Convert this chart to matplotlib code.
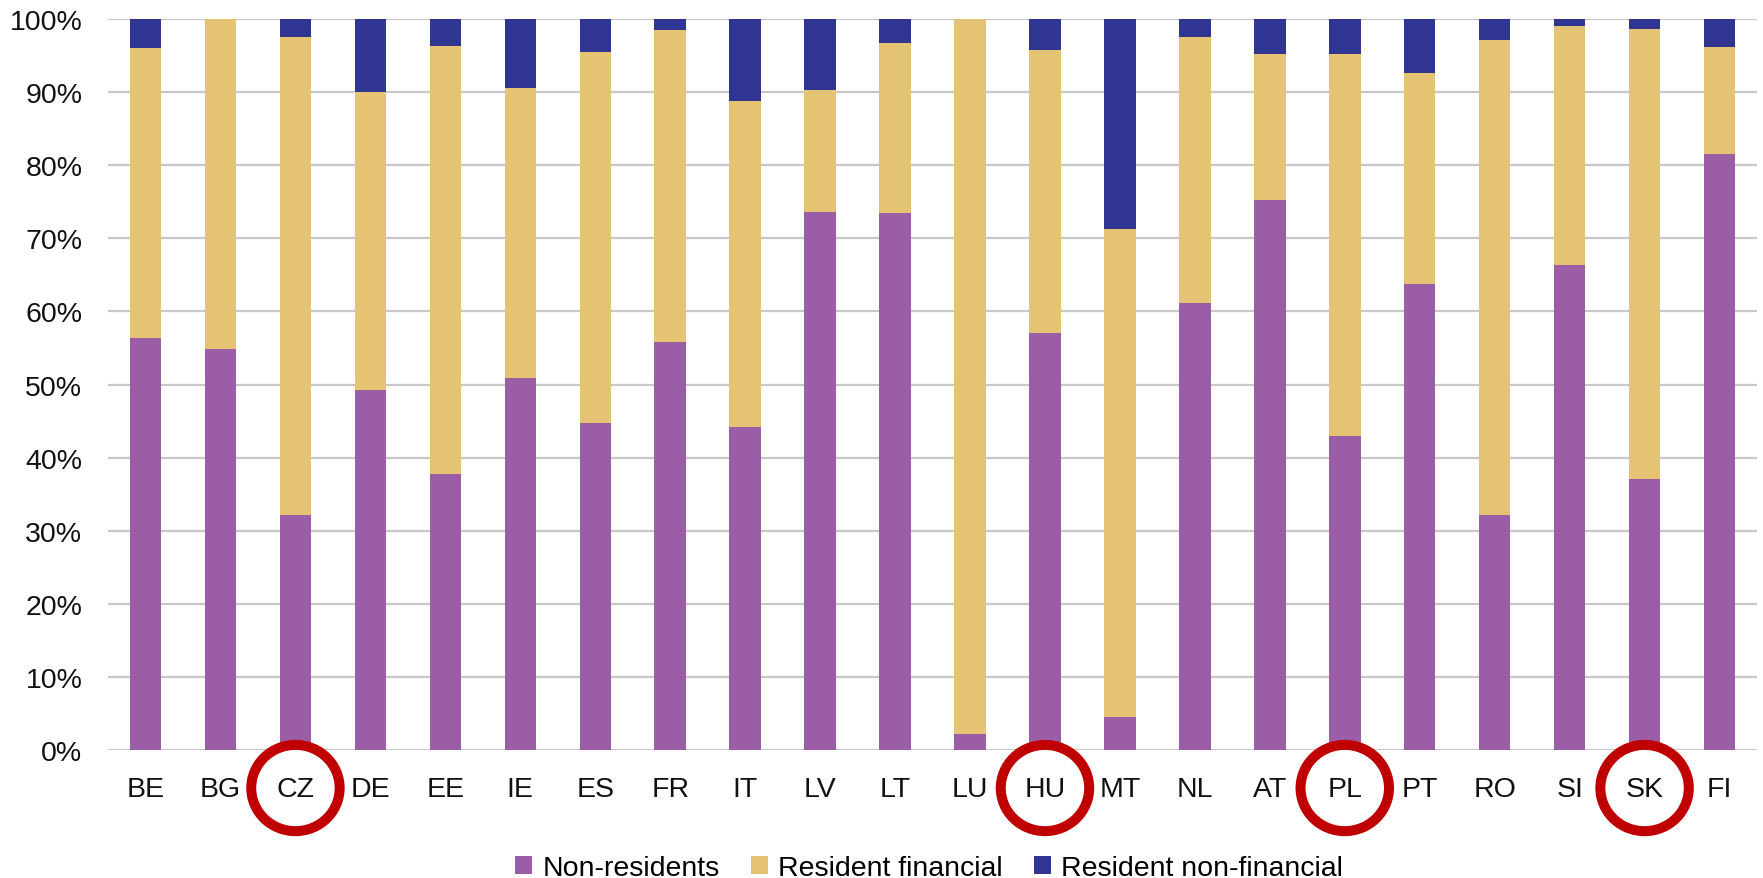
import numpy as np
from matplotlib import pyplot as plt
from matplotlib.patches import Ellipse
import matplotlib.transforms as mtransforms

plt.rcParams['font.family'] = ['Liberation Sans', 'DejaVu Sans']

countries = ['BE', 'BG', 'CZ', 'DE', 'EE', 'IE', 'ES', 'FR', 'IT', 'LV', 'LT',
             'LU', 'HU', 'MT', 'NL', 'AT', 'PL', 'PT', 'RO', 'SI', 'SK', 'FI']
non_residents = [56.3, 54.8, 32.2, 49.2, 37.8, 50.9, 44.8, 55.8, 44.2, 73.6, 73.4,
                 2.2, 57.1, 4.5, 61.2, 75.2, 42.9, 63.7, 32.2, 66.3, 37.1, 81.6]
resident_fin = [39.7, 45.2, 65.3, 40.8, 58.5, 39.7, 50.7, 42.7, 44.6, 16.7, 23.3,
                97.8, 38.6, 66.8, 36.3, 20.0, 52.3, 28.9, 65.0, 32.7, 61.6, 14.6]
resident_nonfin = [4.0, 0.0, 2.5, 10.0, 3.7, 9.4, 4.5, 1.5, 11.2, 9.7, 3.3,
                   0.0, 4.3, 28.7, 2.5, 4.8, 4.8, 7.4, 2.8, 1.0, 1.3, 3.8]
circled = ['CZ', 'HU', 'PL', 'SK']

c_nr = '#9B5EA6'
c_fin = '#E4C472'
c_nf = '#2F3590'
fs = 20.5

fig = plt.figure(figsize=(17.63, 8.79), dpi=100)
ax = fig.add_axes([0.0613, 0.1456, 0.9353, 0.8316])

x = np.arange(len(countries))
nr = np.array(non_residents)
fin = np.array(resident_fin)
nf = np.array(resident_nonfin)
w = 0.42
ax.bar(x, nr, w, color=c_nr, label='Non-residents', zorder=3)
ax.bar(x, fin, w, bottom=nr, color=c_fin, label='Resident financial', zorder=3)
ax.bar(x, nf, w, bottom=nr + fin, color=c_nf, label='Resident non-financial', zorder=3)

ax.set_xlim(-0.5, len(countries) - 0.5)
ax.set_ylim(0, 100)
ax.set_yticks(np.arange(0, 101, 10))
ax.set_yticklabels([f'{v}%' for v in range(0, 101, 10)])
ax.set_xticks(x)
ax.set_xticklabels(countries)
ax.tick_params(length=0, labelsize=fs, colors='#111111')
ax.tick_params(axis='x', pad=19)
ax.tick_params(axis='y', pad=18.5)
ax.grid(axis='y', color='#C8C8C8', linewidth=1.6, zorder=0)
for s in ax.spines.values():
    s.set_visible(False)

# red circles around highlighted country labels
trans = mtransforms.blended_transform_factory(ax.transData, ax.transAxes)
for c in circled:
    i = countries.index(c)
    e = Ellipse((i, -0.052), 1.18, 0.118, transform=trans, fill=False,
                edgecolor='#C00000', linewidth=7.2, clip_on=False, zorder=5)
    ax.add_patch(e)

fig.legend(loc='center', bbox_to_anchor=(0.527, 0.011), ncol=3, frameon=False,
           fontsize=fs, handlelength=0.6, handleheight=0.6, handletextpad=0.35,
           columnspacing=1.1, borderpad=0)

fig.savefig('out.png', dpi=100)
